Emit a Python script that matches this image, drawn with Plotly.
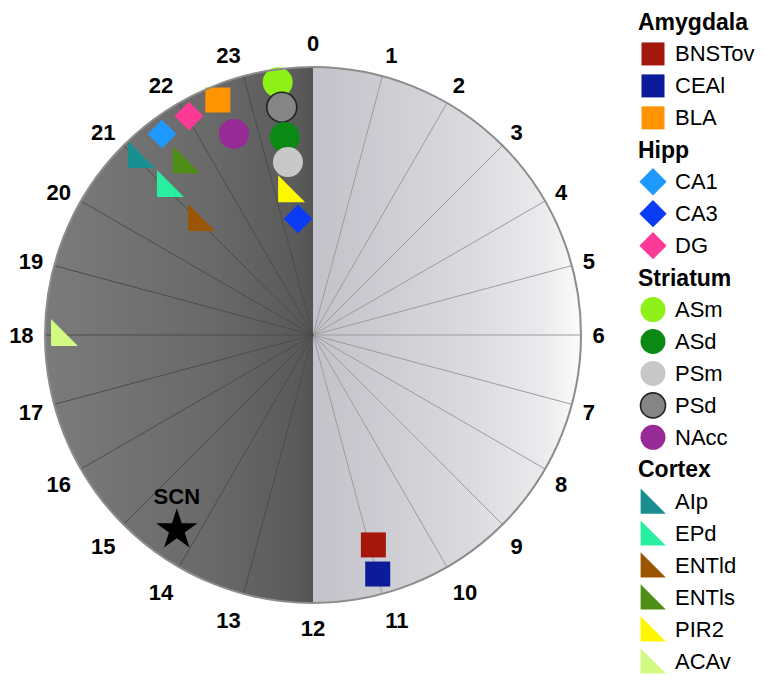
import numpy as np
import plotly.graph_objects as go

# ---------------- data ----------------
groups = ["Amygdala", "Hipp", "Striatum", "Cortex"]
regions = ["BNSTov", "CEAl", "BLA",
           "CA1", "CA3", "DG",
           "ASm", "ASd", "PSm", "PSd", "NAcc",
           "AIp", "EPd", "ENTld", "ENTls", "PIR2", "ACAv"]
region_group = ["Amygdala"] * 3 + ["Hipp"] * 3 + ["Striatum"] * 5 + ["Cortex"] * 6
peak_hour = [10.93, 10.99, 22.53,
             21.54, 23.51, 22.03,
             23.47, 23.46, 23.45, 23.48, 22.57,
             21.00, 21.00, 20.95, 21.50, 23.31, 17.97]
radius = [0.815, 0.924, 0.946,
          0.938, 0.437, 0.939,
          0.952, 0.746, 0.652, 0.858, 0.806,
          0.929, 0.776, 0.604, 0.803, 0.538, 0.944]
region_colors = ["#A3170C", "#0C1B99", "#FF9400",
                 "#1E9AFF", "#0A3CF5", "#FF3A96",
                 "#8EF21A", "#0A8A14", "#C8C8C8", "#858585", "#972A96",
                 "#1A8F91", "#28F0A0", "#9B5400", "#4E8E14", "#FFF700", "#D2FA82"]
scn_label = "SCN"
scn_hour = 14.33
scn_radius = 0.887
hour_ticks = list(range(24))
hour_labels = [str(h) for h in hour_ticks]

# ---------------- styling ----------------
FONT = "Liberation Sans, Arial, sans-serif"
group_symbol = {"Amygdala": "square", "Hipp": "diamond",
                "Striatum": "circle", "Cortex": "triangle-sw"}
main_size = {"square": 25, "diamond": 22, "circle": 30, "triangle-sw": 30}
leg_size = {"square": 23, "diamond": 21, "circle": 25, "triangle-sw": 28}

# page body has an 8px margin -> figure is 8px smaller and all pixel positions shifted
W, H = 758, 674
CX, CY, R = 305, 327, 268
PX0, PX1 = (CX - R) / W, (CX + R) / W
PY0, PY1 = (H - CY - R) / H, (H - CY + R) / H

fig = go.Figure()

# --- background: two half discs with horizontal gradient fills (cartesian underlay) ---
t = np.linspace(0, np.pi, 241)
right_x = np.concatenate([[0], np.sin(t), [0]])
right_y = np.concatenate([[1], np.cos(t), [1]])
left_x = -right_x
left_y = right_y
fig.add_trace(go.Scatter(
    x=left_x, y=left_y, mode="lines", line=dict(width=0), fill="toself",
    fillgradient=dict(type="horizontal", start=-1, stop=0,
                      colorscale=[[0, "#7b7b7b"], [0.6, "#6a6a6a"], [0.95, "#5a5a5a"], [1, "#535353"]]),
    xaxis="x2", yaxis="y2", hoverinfo="skip", showlegend=False))
fig.add_trace(go.Scatter(
    x=right_x, y=right_y, mode="lines", line=dict(width=0), fill="toself",
    fillgradient=dict(type="horizontal", start=0, stop=1,
                      colorscale=[[0, "#c2c2c9"], [0.5, "#d6d6db"], [0.85, "#eaeaec"], [1, "#fbfbfb"]]),
    xaxis="x2", yaxis="y2", hoverinfo="skip", showlegend=False))

# --- hour spokes ---
def spokes(hours):
    th, rr = [], []
    for h in hours:
        th += [h * 15, h * 15, None]
        rr += [0, 1, None]
    return th, rr

th_l, r_l = spokes([h for h in hour_ticks if 0 < h < 12])
th_d, r_d = spokes([h for h in hour_ticks if 12 < h < 24])
fig.add_trace(go.Scatterpolar(theta=th_l, r=r_l, mode="lines",
                              line=dict(color="#9c9ca0", width=1),
                              hoverinfo="skip", showlegend=False))
fig.add_trace(go.Scatterpolar(theta=th_d, r=r_d, mode="lines",
                              line=dict(color="#4c4c4c", width=1),
                              hoverinfo="skip", showlegend=False))

# --- region markers (outer ones drawn first) ---
order = np.argsort(-np.array(radius), kind="stable")
syms = [group_symbol[region_group[k]] for k in order]
fig.add_trace(go.Scatterpolar(
    theta=[peak_hour[k] * 15 for k in order],
    r=[radius[k] for k in order],
    mode="markers",
    text=[regions[k] for k in order],
    marker=dict(symbol=syms,
                size=[main_size[s] for s in syms],
                color=[region_colors[k] for k in order],
                line=dict(color=["#222222" if regions[k] == "PSd" else region_colors[k] for k in order],
                          width=[1.6 if regions[k] == "PSd" else 0 for k in order]),
                opacity=1),
    showlegend=False))

# --- SCN star ---
fig.add_trace(go.Scatterpolar(
    theta=[scn_hour * 15], r=[scn_radius], mode="markers+text",
    text=["<b>%s</b>" % scn_label], textposition="top center",
    textfont=dict(family=FONT, size=22, color="black"),
    marker=dict(symbol="star", size=31, color="black", opacity=1),
    showlegend=False))

# --- custom legend on a pixel-scaled cartesian overlay ---
rows = []
for g in groups:
    rows.append(("title", g, None))
    for k, name in enumerate(regions):
        if region_group[k] == g:
            rows.append(("item", name, k))

row0, step = 14, 31.95
lx, ly, ls, lc, llc, llw = [], [], [], [], [], []
annotations = []
for n, (kind, label, k) in enumerate(rows):
    y = row0 + n * step
    if kind == "title":
        annotations.append(dict(x=628, y=y, xref="x", yref="y", text="<b>%s</b>" % label,
                                showarrow=False, xanchor="left", yanchor="middle",
                                font=dict(family=FONT, size=23, color="black")))
    else:
        s = group_symbol[region_group[k]]
        if s == "triangle-sw":
            lx.append(641); ly.append(y + 4)
        else:
            lx.append(645); ly.append(y)
        ls.append(s)
        lc.append(region_colors[k])
        llc.append("#222222" if label == "PSd" else region_colors[k])
        llw.append(1.6 if label == "PSd" else 0)
        annotations.append(dict(x=665, y=y, xref="x", yref="y", text=label,
                                showarrow=False, xanchor="left", yanchor="middle",
                                font=dict(family=FONT, size=22, color="black")))

fig.add_trace(go.Scatter(
    x=lx, y=ly, mode="markers", xaxis="x", yaxis="y",
    marker=dict(symbol=ls, size=[leg_size[s] for s in ls], color=lc, opacity=1,
                line=dict(color=llc, width=llw)),
    hoverinfo="skip", showlegend=False))

fig.update_layout(
    width=W, height=H,
    margin=dict(l=0, r=0, t=0, b=0),
    paper_bgcolor="white",
    plot_bgcolor="rgba(0,0,0,0)",
    showlegend=False,
    font=dict(family=FONT),
    annotations=annotations,
    xaxis=dict(domain=[612 / W, 1], range=[612, W], visible=False, fixedrange=True),
    yaxis=dict(domain=[0, 1], range=[H, 0], visible=False, fixedrange=True),
    xaxis2=dict(domain=[PX0, PX1], range=[-1, 1], visible=False, fixedrange=True, anchor="y2"),
    yaxis2=dict(domain=[PY0, PY1], range=[-1, 1], visible=False, fixedrange=True, anchor="x2"),
    polar=dict(
        domain=dict(x=[PX0, PX1], y=[PY0, PY1]),
        bgcolor="rgba(0,0,0,0)",
        radialaxis=dict(visible=False, range=[0, 1]),
        angularaxis=dict(
            rotation=90, direction="clockwise",
            tickmode="array", tickvals=[h * 15 for h in hour_ticks], ticktext=hour_labels,
            tickfont=dict(family=FONT, size=22, color="black", weight="bold"),
            ticks="outside", ticklen=6, tickcolor="rgba(0,0,0,0)", showgrid=False,
            showline=True, linecolor="#8c8c8c", linewidth=2,
            layer="above traces"),
    ),
)

fig.write_html("out.html")
